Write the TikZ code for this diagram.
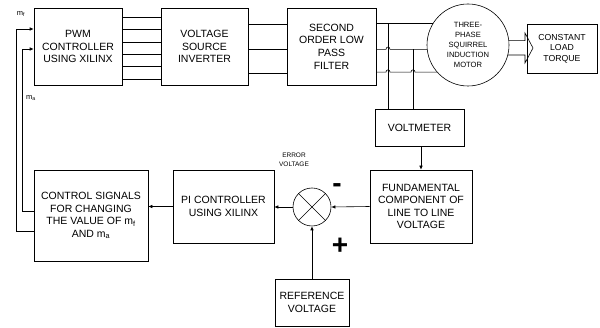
\documentclass[tikz,border=0pt]{standalone}
\usepackage{fontspec}
\setmainfont{Liberation Sans}
\usetikzlibrary{positioning,arrows.meta,calc}

\begin{document}
\begin{tikzpicture}[x=1pt, y=-1pt, >={Latex[length=4pt,width=3.5pt]},
      font=\fontsize{10.5}{12.6}\selectfont, line width=0.6pt,
      blk/.style 2 args={draw, minimum width=#1, minimum height=#2, align=center, inner sep=1pt},
      motor/.style={draw, circle, minimum size=82pt, inner sep=0pt, align=center, font=\fontsize{7.6}{10}\selectfont},
      sum/.style={draw, circle, minimum size=38pt, inner sep=0pt},
      lab/.style={font=\fontsize{7.5}{9}\selectfont, inner sep=0pt},
      sgn/.style={font=\fontsize{28}{28}\selectfont\bfseries, inner sep=0pt}]
      \useasboundingbox (0,0) rectangle (600,328);
      % top row
      \node[blk={88pt}{77pt}] (pwm) at (78,46.5) {PWM\\CONTROLLER\\USING XILINX};
      \node[blk={87pt}{77pt}] (vsi) at (204.5,46.5) {VOLTAGE\\SOURCE\\INVERTER};
      \node[blk={89pt}{77pt}] (filt) at (331.5,46.5) {SECOND\\ORDER LOW\\PASS\\FILTER};
      \node[motor] (mot) at (468,45) {THREE-\\PHASE\\SQUIRREL\\INDUCTION\\MOTOR};
      \node[blk={70pt}{49pt}, font=\fontsize{8.7}{10.5}\selectfont] (load) at (562,48.5) {CONSTANT\\LOAD\\TORQUE};
      % feedback path
      \node[blk={89pt}{37pt}] (volt) at (419.5,127.5) {VOLTMETER};
      \node[blk={102pt}{73pt}] (fund) at (421,206.5) {FUNDAMENTAL\\COMPONENT OF\\LINE TO LINE\\VOLTAGE};
      \node[sum] (sum) at (312,207) {};
      \node[blk={101pt}{73pt}] (pi) at (223.5,206.5) {PI CONTROLLER\\USING XILINX};
      \node[blk={114pt}{91pt}] (ctrl) at (91,215.5) {CONTROL SIGNALS\\FOR CHANGING\\THE VALUE OF m\textsubscript{f}\\AND m\textsubscript{a}};
      \node[blk={74pt}{47pt}] (refv) at (312,302.5) {REFERENCE\\VOLTAGE};
      \node[font=\fontsize{6.5}{8.6}\selectfont, align=center] (err) at (294,159.5) {ERROR\\VOLTAGE};
      \node[sgn] (minus) at (337,188) {-};
      \node[sgn] (plus) at (340,246) {+};
      \node[lab] (mflab) at (21,14) {m\textsubscript{f}};
      \node[lab] (malab) at (31,98) {m\textsubscript{a}};
      \coordinate (tapA) at (388,0);
      \coordinate (tapB) at (413,0);
      \coordinate (mf) at (16,29);
      \coordinate (ma) at (22,49);
      % pwm to inverter
      \foreach \y in {17,29.5,42,54,66.5,79}
        \draw (pwm.east |- 0,\y) -- (vsi.west |- 0,\y);
      \foreach \y in {24,49,73}
        \draw (vsi.east |- 0,\y) -- (filt.west |- 0,\y);
      % filter to motor, with hops over the taps
      \draw (mot.149 -| filt.east) -- (mot.149);
      \draw (mot.186 -| filt.east) -- ($(mot.186 -| tapA)+(-2,0)$) .. controls +(0,-3) and +(0,-3) .. ++(4,0) -- (mot.186);
      \draw (mot.221 -| filt.east) -- ($(mot.221 -| tapA)+(-2,0)$) .. controls +(0,-3) and +(0,-3) .. ++(4,0)
            -- ($(mot.221 -| tapB)+(-2,0)$) .. controls +(0,-3) and +(0,-3) .. ++(4,0) -- (mot.221);
      \draw (tapA |- mot.149) -- (tapA |- volt.north);
      \draw (tapB |- mot.186) -- (tapB |- volt.north);
      \draw (mot.6) -- (mot.6 -| 525,0) -- (525,33) -- (533,48) -- (525,63) -- (mot.-14 -| 525,0) -- (mot.-14);
      % loop
      \draw[->] (volt.south -| fund.north) -- (fund.north);
      \draw[->] (fund.west) -- (sum.east);
      \draw (sum.45) -- (sum.225);
      \draw (sum.135) -- (sum.315);
      \draw[->] (refv.north) -- (sum.south);
      \draw[->] (sum.west) -- (sum.west -| pi.east);
      \draw[->] (pi.west) -- (pi.west -| ctrl.east);
      \draw[->] (ctrl.west |- 0,231) -| (mf) -- (mf -| pwm.west);
      \draw[->] (ctrl.west |- 0,211) -| (ma) -- (ma -| pwm.west);
    \end{tikzpicture}
\end{document}
